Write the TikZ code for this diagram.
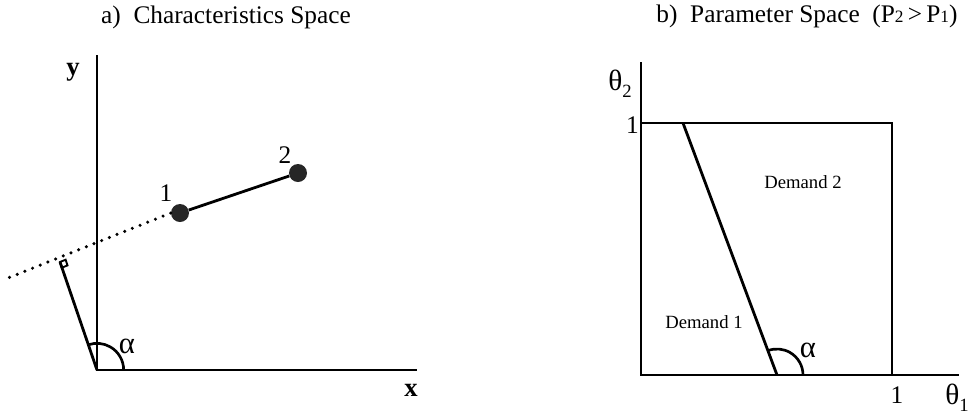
\documentclass[tikz,border=0pt]{standalone}
\usepackage{fontspec}
\setmainfont{Liberation Serif}
\begin{document}
\begin{tikzpicture}[x=0.75pt,y=-0.75pt,
  axis/.style={line width=2.1pt},
  big/.style={font=\fontsize{19}{22}\selectfont, inner sep=0pt},
  greek/.style={font=\fontsize{23}{26}\selectfont, inner sep=0pt},
  axlbl/.style={font=\fontsize{20}{23}\selectfont\bfseries, inner sep=0pt},
  small/.style={font=\fontsize{14}{16}\selectfont, inner sep=0pt},
  dot/.style={circle, fill=black!85, minimum size=13.5pt, inner sep=0pt}]
\useasboundingbox (0,0) rectangle (976,415);
% ---------- left panel ----------
\node[big] (ta) at (226,17) {a)\ \ Characteristics Space};
\coordinate (O) at (97,370);
\coordinate (ytop) at (97,55);
\coordinate (xend) at (417,370);
\draw[axis] (ytop) -- (O) -- (xend);
\node[axlbl] (ylab) at (73,72) {y};
\node[axlbl] (xlab) at (411,390) {x};
\node[dot] (p1) at (180,213) {};
\node[dot] (p2) at (298,173) {};
\draw[line width=2.1pt] (p1) -- (p2);
\node[big] (l1) at (166,193) {1};
\node[big] (l2) at (285,155) {2};
\coordinate (dl) at (8,278);
\draw[line width=2.6pt, line cap=round, dash pattern=on 0pt off 6.2pt] (p1.west) -- (dl);
\coordinate (F) at (60,262);
\draw[line width=2.1pt] (O) -- (F);
\draw[line width=1.4pt] (F) -- (65.6,259.7) -- (67.5,265.4) -- (61.9,267.7) -- cycle;
\draw[line width=2pt] ([shift={(0:20pt)}]O) arc[start angle=0, end angle=109, radius=20pt];
\node[greek] (al1) at (127,346) {α};
% ---------- right panel ----------
\node[big] (tb) at (807,16) {b)\ \ Parameter Space\ \ (P{\fontsize{13}{15}\selectfont 2}\,>\,P{\fontsize{13}{15}\selectfont 1})};
\coordinate (O2) at (641,375);
\coordinate (t2top) at (641,62);
\coordinate (t1end) at (959,375);
\draw[axis] (t2top) -- (O2) -- (t1end);
\coordinate (bl) at (641,123);
\coordinate (tr) at (892,123);
\coordinate (br) at (892,375);
\draw[axis] (bl) -- (tr) -- (br);
\coordinate (dtop) at (683,123);
\coordinate (dbot) at (777,375);
\draw[axis] (dtop) -- (dbot);
\draw[line width=2pt] ([shift={(0:19.5pt)}]dbot) arc[start angle=0, end angle=110.5, radius=19.5pt];
\node[greek] (al2) at (808,350) {α};
\node[big] (one1) at (897,395) {1};
\node[big] (th1) at (957,398) {{\fontsize{22}{24}\selectfont θ}\raisebox{-5pt}{\fontsize{14}{16}\selectfont 1}};
\node[big] (th2) at (620,84) {{\fontsize{22}{24}\selectfont θ}\raisebox{-5pt}{\fontsize{14}{16}\selectfont 2}};
\node[big, anchor=east] (one2) at (639,125) {1};
\node[small] (d2) at (803,182) {Demand 2};
\node[small] (d1) at (704,322) {Demand 1};
\end{tikzpicture}
\end{document}
